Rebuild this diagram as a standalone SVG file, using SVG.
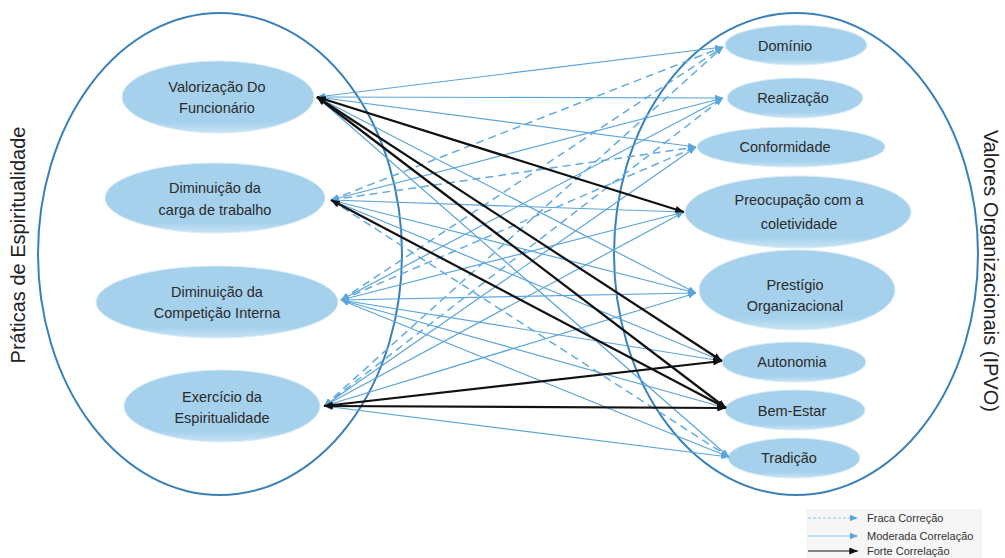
<svg xmlns="http://www.w3.org/2000/svg" width="1005" height="558" viewBox="0 0 1005 558">
<defs>
<linearGradient id="nodeGrad" x1="0" y1="0" x2="0" y2="1">
<stop offset="0" stop-color="#a6d1ec"/>
<stop offset="0.85" stop-color="#a6d1ec"/>
<stop offset="1" stop-color="#c9e4f5"/>
</linearGradient>
<marker id="aBlue" viewBox="0 0 10 8" refX="10" refY="4" markerWidth="8" markerHeight="6.4" markerUnits="userSpaceOnUse" orient="auto-start-reverse">
<path d="M0,0 L10,4 L0,8 Z" fill="#5aa5dc"/>
</marker>
<marker id="aBlack" viewBox="0 0 10 8" refX="10" refY="4" markerWidth="9" markerHeight="7" markerUnits="userSpaceOnUse" orient="auto-start-reverse">
<path d="M0,0 L10,4 L0,8 Z" fill="#111"/>
</marker>
</defs>
<style>
.outer{fill:none;stroke:#3a80b8;stroke-width:2}
.node ellipse{fill:url(#nodeGrad);stroke:#d8ecf8;stroke-width:1}
.node text{font-family:"Liberation Sans","Open Sans",sans-serif;font-size:14.5px;fill:#2b2b2b;text-anchor:middle}
.title{font-family:"Liberation Sans","Open Sans",sans-serif;font-size:20px;fill:#222;text-anchor:middle}
.m{stroke:#5aa5dc;stroke-width:1.2;fill:none;marker-end:url(#aBlue);marker-start:url(#aBlue)}
.w{stroke:#62abe0;stroke-width:1.5;stroke-dasharray:8 5;fill:none;marker-end:url(#aBlue);marker-start:url(#aBlue)}
.s{stroke:#111;stroke-width:2.2;fill:none;marker-end:url(#aBlack);marker-start:url(#aBlack)}
.leg{font-family:"Liberation Sans","Open Sans",sans-serif;font-size:11px;fill:#333}
</style>
<rect width="1005" height="558" fill="#ffffff"/>

<g id="groups">
<ellipse class="outer" cx="220" cy="254" rx="182" ry="241"/>
<ellipse class="outer" cx="796" cy="254" rx="182" ry="241"/>
<text class="title" transform="translate(25,245) rotate(-90)">Práticas de Espiritualidade</text>
<text class="title" transform="translate(984,271) rotate(90)">Valores Organizacionais (IPVO)</text>
</g>

<g id="node-valorizacao" class="node"><ellipse cx="218" cy="97" rx="96" ry="36"/><text x="217" y="92">Valorização Do</text><text x="217" y="113">Funcionário</text></g>
<g id="node-carga" class="node"><ellipse cx="215" cy="198" rx="110" ry="35"/><text x="215" y="193">Diminuição da</text><text x="215" y="215">carga de trabalho</text></g>
<g id="node-competicao" class="node"><ellipse cx="217" cy="302" rx="121" ry="36"/><text x="217" y="297">Diminuição da</text><text x="217" y="318">Competição Interna</text></g>
<g id="node-exercicio" class="node"><ellipse cx="222" cy="406" rx="98" ry="36"/><text x="222" y="402">Exercício da</text><text x="222" y="423">Espiritualidade</text></g>

<g id="node-dominio" class="node"><ellipse cx="796" cy="45" rx="71" ry="20"/><text x="785" y="51">Domínio</text></g>
<g id="node-realizacao" class="node"><ellipse cx="795" cy="98" rx="68" ry="20"/><text x="793" y="103">Realização</text></g>
<g id="node-conformidade" class="node"><ellipse cx="791" cy="147" rx="94" ry="20"/><text x="785" y="152">Conformidade</text></g>
<g id="node-preocupacao" class="node"><ellipse cx="798" cy="212" rx="113" ry="36"/><text x="799" y="205">Preocupação com a</text><text x="799" y="229">coletividade</text></g>
<g id="node-prestigio" class="node"><ellipse cx="797" cy="290" rx="98" ry="40"/><text x="795" y="290">Prestígio</text><text x="795" y="311">Organizacional</text></g>
<g id="node-autonomia" class="node"><ellipse cx="794" cy="362" rx="72" ry="20"/><text x="792" y="367">Autonomia</text></g>
<g id="node-bemestar" class="node"><ellipse cx="795" cy="410" rx="70" ry="20"/><text x="792" y="416">Bem-Estar</text></g>
<g id="node-tradicao" class="node"><ellipse cx="794" cy="458" rx="66" ry="20"/><text x="789" y="463">Tradição</text></g>

<g id="connectors">
<!-- Valorização -->
<line class="m" x1="317" y1="97" x2="723" y2="47"/>
<line class="m" x1="317" y1="97" x2="723" y2="98"/>
<line class="m" x1="317" y1="97" x2="696" y2="147"/>
<line class="m" x1="317" y1="97" x2="696" y2="293"/>
<line class="m" x1="317" y1="97" x2="729" y2="457"/>
<!-- Carga -->
<line class="w" x1="331" y1="200" x2="723" y2="47"/>
<line class="m" x1="331" y1="200" x2="723" y2="98"/>
<line class="w" x1="331" y1="200" x2="696" y2="147"/>
<line class="m" x1="331" y1="200" x2="684" y2="212"/>
<line class="m" x1="331" y1="200" x2="696" y2="293"/>
<line class="m" x1="331" y1="200" x2="722" y2="361"/>
<line class="w" x1="331" y1="200" x2="729" y2="457"/>
<!-- Competição -->
<line class="w" x1="341" y1="300" x2="723" y2="47"/>
<line class="m" x1="341" y1="300" x2="723" y2="98"/>
<line class="w" x1="341" y1="300" x2="696" y2="147"/>
<line class="m" x1="341" y1="300" x2="684" y2="212"/>
<line class="m" x1="341" y1="300" x2="696" y2="293"/>
<line class="m" x1="341" y1="300" x2="722" y2="361"/>
<line class="m" x1="341" y1="300" x2="726" y2="408"/>
<line class="m" x1="341" y1="300" x2="729" y2="457"/>
<!-- Exercício -->
<line class="w" x1="324" y1="406" x2="723" y2="47"/>
<line class="w" x1="324" y1="406" x2="723" y2="98"/>
<line class="m" x1="324" y1="406" x2="696" y2="147"/>
<line class="m" x1="324" y1="406" x2="684" y2="212"/>
<line class="m" x1="324" y1="406" x2="696" y2="293"/>
<line class="m" x1="324" y1="406" x2="729" y2="457"/>
<!-- Forte -->
<line class="s" x1="317" y1="97" x2="684" y2="212"/>
<line class="s" x1="317" y1="97" x2="722" y2="361"/>
<line class="s" x1="317" y1="97" x2="726" y2="408"/>
<line class="s" x1="331" y1="200" x2="726" y2="408"/>
<line class="s" x1="324" y1="406" x2="722" y2="361"/>
<line class="s" x1="324" y1="406" x2="726" y2="408"/>
</g>

<g id="legend">
<rect x="806" y="509" width="176" height="49" fill="#f6f6f6"/>
<line x1="808" y1="518" x2="858" y2="518" stroke="#8ec6ec" stroke-width="1.2" stroke-dasharray="3 2" marker-end="url(#aBlue)"/>
<line x1="808" y1="536" x2="858" y2="536" stroke="#8ec6ec" stroke-width="1.2" marker-end="url(#aBlue)"/>
<line x1="808" y1="551" x2="858" y2="551" stroke="#111" stroke-width="1.2" marker-end="url(#aBlack)"/>
<text class="leg" x="867" y="522">Fraca Correção</text>
<text class="leg" x="867" y="540">Moderada Correlação</text>
<text class="leg" x="867" y="555">Forte Correlação</text>
</g>
</svg>
